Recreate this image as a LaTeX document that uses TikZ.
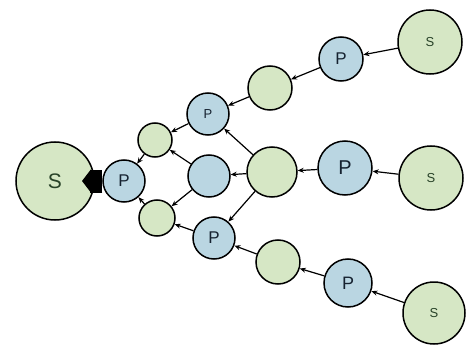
\documentclass[tikz,border=0pt]{standalone}
\usepackage{fontspec}
\setmainfont{Liberation Sans}
\usepackage{tikz}
\usetikzlibrary{shapes, arrows, arrows.meta, calc, positioning}

\definecolor{lgreen}{RGB}{214,231,197}
\definecolor{lblue}{RGB}{186,214,226}
\definecolor{sgreen}{RGB}{40,66,40}
\definecolor{pblue}{RGB}{22,34,48}

\begin{document}
\begin{tikzpicture}[>={Stealth[length=6pt, width=5pt]}, x=1pt, y=-1pt]
    \tikzstyle{gfmt} = [draw, line width=1.5pt, circle, fill=lgreen,
	inner sep=0pt, text=sgreen]
    \tikzstyle{bfmt} = [draw, line width=1.5pt, circle, fill=lblue,
	inner sep=0pt, text=pblue]

		\useasboundingbox (0,0) rectangle (469,345);

		\path[->, line width=1.2pt]
			node[gfmt, minimum size=78pt, font=\fontsize{21}{21}\selectfont] (1) at (55,181) {S}
			node[bfmt, minimum size=42pt, font=\fontsize{17}{17}\selectfont] (2) at (124,181) {P}
			node[gfmt, minimum size=34pt] (3) at (155,140) {}
			node[gfmt, minimum size=36pt] (4) at (157,218) {}
			node[bfmt, minimum size=42pt, font=\fontsize{13}{13}\selectfont] (5) at (208,114) {P}
			node[bfmt, minimum size=42pt] (6) at (209,176) {}
			node[bfmt, minimum size=42pt, font=\fontsize{17}{17}\selectfont] (7) at (214,238) {P}
			node[gfmt, minimum size=44pt] (8) at (270,88) {}
			node[gfmt, minimum size=50pt] (9) at (272,172) {}
			node[gfmt, minimum size=44pt] (10) at (278,262) {}
			node[bfmt, minimum size=44pt, font=\fontsize{17}{17}\selectfont] (11) at (341,59) {P}
			node[bfmt, minimum size=54pt, font=\fontsize{20}{20}\selectfont] (12) at (345,168) {P}
			node[bfmt, minimum size=48pt, font=\fontsize{18}{18}\selectfont] (13) at (348,283) {P}
			node[gfmt, minimum size=64pt, font=\fontsize{13}{13}\selectfont] (14) at (430,42) {S}
			node[gfmt, minimum size=64pt, font=\fontsize{13}{13}\selectfont] (15) at (431,178) {S}
			node[gfmt, minimum size=62pt, font=\fontsize{13}{13}\selectfont] (16) at (434,313) {S}

			(14) edge (11)
			(11) edge (8)
			(8) edge (5)
			(5) edge (3)
			(9) edge (5)
			(9) edge (6)
			(9) edge (7)
			(15) edge (12)
			(12) edge (9)
			(6) edge (3)
			(6) edge (4)
			(7) edge (4)
			(16) edge (13)
			(13) edge (10)
			(10) edge (7)
			(3) edge (2)
			(4) edge (2)
		;

		% fat link into the big source
		\coordinate (tip) at (82,181);
		\draw[line width=23pt, -{Triangle[length=9pt, width=23pt]}] (2.west) -- (tip);

\end{tikzpicture}
\end{document}
